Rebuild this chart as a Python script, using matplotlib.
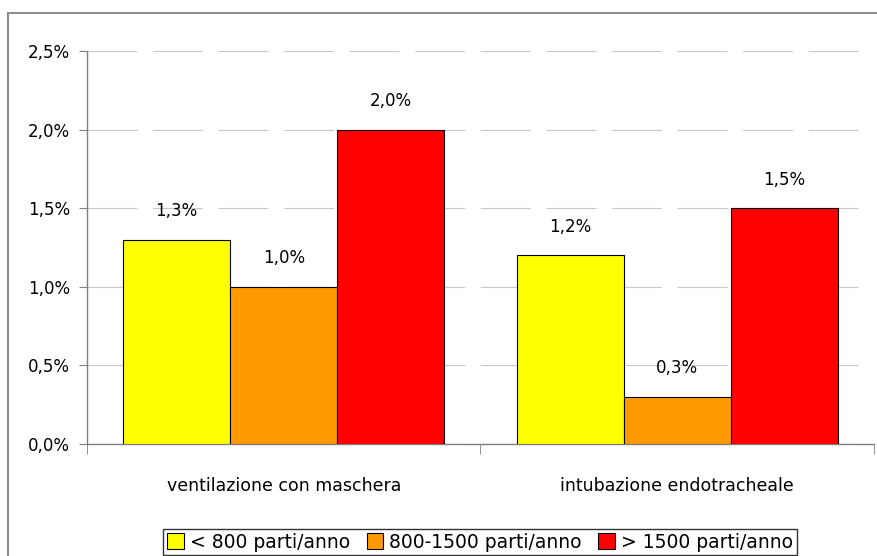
import numpy as np
import matplotlib
matplotlib.use("Agg")
from matplotlib import pyplot as plt
from matplotlib.patches import Rectangle

# dati
categorie = ["ventilazione con maschera", "intubazione endotracheale"]
serie = ["< 800 parti/anno", "800-1500 parti/anno", "> 1500 parti/anno"]
valori = [
    [1.3, 1.2],   # < 800
    [1.0, 0.3],   # 800-1500
    [2.0, 1.5],   # > 1500
]
colori = ["#ffff00", "#ff9900", "#ff0000"]
yticks = [0.0, 0.5, 1.0, 1.5, 2.0, 2.5]

plt.rcParams['font.family'] = ['DejaVu Sans']
plt.rcParams['font.size'] = 12

fig = plt.figure(figsize=(8.78, 5.56), dpi=100)
# cornice esterna grigia
fig.patches.append(Rectangle((8/878, -0.1), 2.0, (556-13)/556 + 0.1,
                             transform=fig.transFigure, fill=False,
                             edgecolor="#8c8c8c", linewidth=1.5))

ax = fig.add_axes([87/878, 112/556, 787/878, 393/556])

larg = 107/393.5
x = np.arange(len(categorie))
for i, (s, c) in enumerate(zip(serie, colori)):
    pos = x + (i - 1) * larg
    ax.bar(pos, valori[i], width=larg, color=c, edgecolor="black",
           linewidth=0.8, label=s, zorder=3)
    for xb, v in zip(pos, valori[i]):
        ax.annotate(("%.1f%%" % v).replace(".", ","), (xb, v),
                    xytext=(0, 14), textcoords="offset points",
                    ha="center", va="bottom", fontsize=12)

ax.set_xlim(-0.5, 1.5)
ax.set_ylim(0, 2.5)
ax.set_yticks(yticks)
ax.set_yticklabels([("%.1f%%" % t).replace(".", ",") for t in yticks])
ax.yaxis.grid(True, color="#c8c8c8", linestyle=(0, (45, 14)), linewidth=0.8, zorder=0)

ax.set_xticks(x)
ax.set_xticklabels(categorie, fontsize=12.5)
ax.tick_params(axis="x", which="major", length=0, pad=24)
ax.set_xticks([-0.5, 0.5, 1.5], minor=True)
ax.tick_params(axis="x", which="minor", length=7, color="#808080", direction="out")
ax.tick_params(axis="y", length=6, color="#808080", pad=6)

for sp in ["top", "right"]:
    ax.spines[sp].set_visible(False)
for sp in ["left", "bottom"]:
    ax.spines[sp].set_color("#808080")
    ax.spines[sp].set_linewidth(1.0)

leg = ax.legend(loc="center", bbox_to_anchor=(480/878, 14/556),
                bbox_transform=fig.transFigure, ncol=3, frameon=True,
                fancybox=False, edgecolor="black", handlelength=0.9,
                handleheight=0.9, handletextpad=0.3, columnspacing=0.9,
                borderpad=0.2, fontsize=13.5)
leg.get_frame().set_linewidth(1.0)

fig.savefig("out.png", dpi=100)
